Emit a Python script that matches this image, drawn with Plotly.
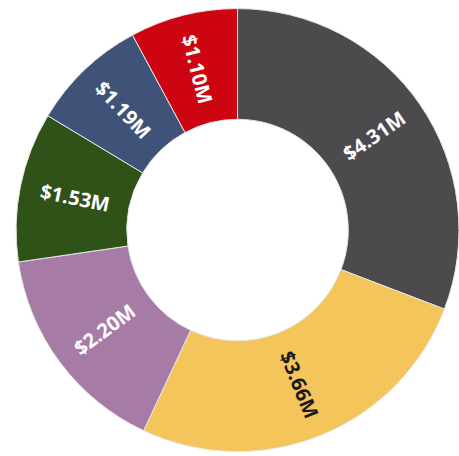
import math
import plotly.graph_objects as go

# Sales by segment, in millions of dollars (clockwise from 12 o'clock)
segments = ["Segment A", "Segment B", "Segment C", "Segment D", "Segment E", "Segment F"]
values_musd = [4.31, 3.66, 2.20, 1.53, 1.19, 1.10]
colors = ["#4b4b4d", "#f3c55a", "#a67ca6", "#2f5219", "#3e5377", "#cc0511"]
text_colors = ["#ffffff", "#1a1a1a", "#ffffff", "#ffffff", "#ffffff", "#ffffff"]

W, H = 459, 456
dom_x = [0.035, 1.0]
dom_y = [0.0, 0.991]
HOLE = 0.5

fig = go.Figure(
    go.Pie(
        labels=segments,
        values=values_musd,
        hole=HOLE,
        sort=False,
        direction="clockwise",
        rotation=0,
        marker=dict(colors=colors, line=dict(color="#e6e6e6", width=1)),
        textinfo="none",
        showlegend=False,
        domain=dict(x=dom_x, y=dom_y),
    )
)

# Value labels placed at each slice's mid-angle, turned to run along the radius
cx = (dom_x[0] + dom_x[1]) / 2 * W
cy = (dom_y[0] + dom_y[1]) / 2 * H
radius = min((dom_x[1] - dom_x[0]) * W, (dom_y[1] - dom_y[0]) * H) / 2
label_r = radius * (1 + HOLE) / 2
total = sum(values_musd)
cum = 0.0
for val, tcol in zip(values_musd, text_colors):
    mid = (cum + val / 2) / total * 360.0  # degrees clockwise from 12 o'clock
    cum += val
    rad = math.radians(mid)
    px = cx + label_r * math.sin(rad)
    py = cy + label_r * math.cos(rad)
    angle = mid - 90 if mid <= 180 else mid - 270
    fig.add_annotation(
        x=px / W,
        y=py / H,
        xref="paper",
        yref="paper",
        text=f"${val:.2f}M",
        showarrow=False,
        textangle=angle,
        font=dict(family="Open Sans", size=20, color=tcol, weight="bold"),
        xanchor="center",
        yanchor="middle",
    )

fig.update_layout(
    width=W,
    height=H,
    margin=dict(l=0, r=0, t=0, b=0),
    paper_bgcolor="white",
    plot_bgcolor="white",
)

fig.write_html("out.html")
